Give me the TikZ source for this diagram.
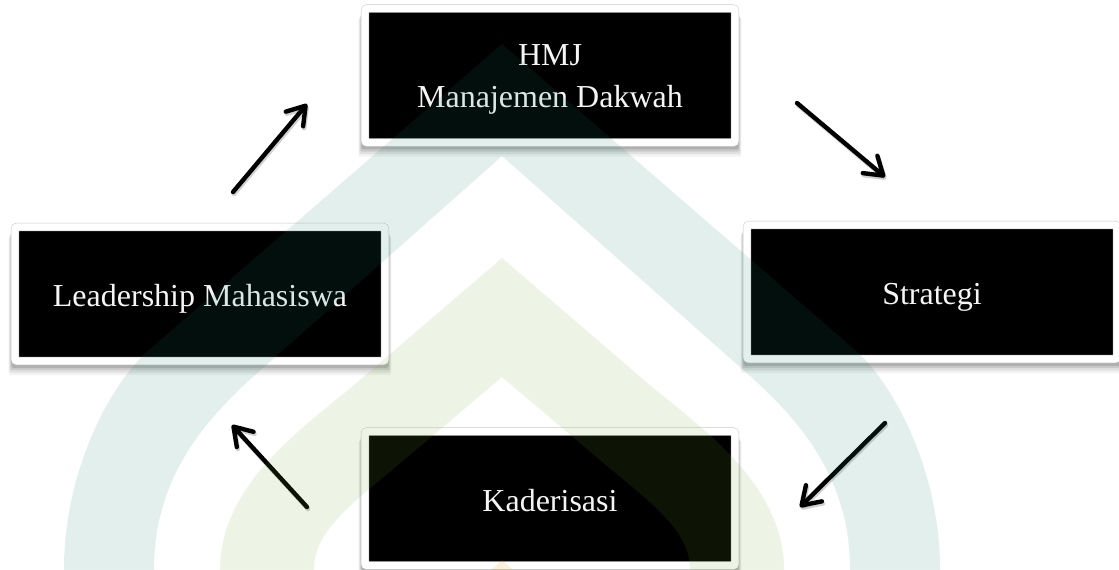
\documentclass[tikz,border=0pt]{standalone}
\usepackage{fontspec}
\setmainfont{Liberation Serif}
\usetikzlibrary{arrows.meta,shadows}
\definecolor{wmteal}{RGB}{30,130,113}
\definecolor{wmgreen}{RGB}{113,172,47}
\definecolor{wmgold}{RGB}{230,160,0}
\tikzset{
  framebox/.style={rectangle, fill=black, draw=black!22, double=white,
    double distance=5.4pt, line width=0.35pt,
    rounded corners=1.5pt, minimum width=277.5pt, minimum height=100.5pt,
    inner sep=0pt, text=white!96!black, font=\fontsize{24}{31.5}\selectfont, align=center,
    text height=24pt, text depth=4.6pt,
    general shadow={fill=black, opacity=0.05, shadow yshift=-8.5pt, shadow scale=1.035},
    general shadow={fill=black, opacity=0.07, shadow yshift=-7pt, shadow scale=1.03},
    general shadow={fill=black, opacity=0.10, shadow yshift=-5.5pt, shadow scale=1.025},
    general shadow={fill=black, opacity=0.12, shadow yshift=-4pt, shadow scale=1.02}},
  flowarrow/.style={line width=3.3pt, line cap=round,
    -{Straight Barb[length=13pt,width=17pt,line cap=round,line join=round]}},
  arrowshade/.style={flowarrow, draw=black, opacity=0.18,
    transform canvas={shift={(0.8pt,-1.6pt)}}},
  wmfill/.style={fill opacity=0.12, even odd rule}
}
\begin{document}
\begin{tikzpicture}[x=0.75pt,y=-0.75pt]
\fill[white] (0,0) rectangle (1119,569);
\useasboundingbox (0,0) rectangle (1119,569);

% boxes
\node[framebox, text height=52pt] (hmj) at (550,75.5) {HMJ\\Manajemen Dakwah};
\node[framebox] (lead) at (200,294) {Leadership Mahasiswa};
\node[framebox] (strat) at (932,292) {Strategi};
\node[framebox] (kader) at (550,498.5) {Kaderisasi};

% arrow end points
\coordinate (a1s) at (233,192);
\coordinate (a1e) at (307,104);
\coordinate (a2s) at (797,103);
\coordinate (a2e) at (885,177);
\coordinate (a3s) at (885,423);
\coordinate (a3e) at (800,507);
\coordinate (a4s) at (307,507);
\coordinate (a4e) at (232,425);

\draw[arrowshade] (a1s) -- (a1e);
\draw[arrowshade] (a2s) -- (a2e);
\draw[arrowshade] (a3s) -- (a3e);
\draw[arrowshade] (a4s) -- (a4e);
\draw[flowarrow] (a1s) -- (a1e);
\draw[flowarrow] (a2s) -- (a2e);
\draw[flowarrow] (a3s) -- (a3e);
\draw[flowarrow] (a4s) -- (a4e);

% watermark overlay
\begin{scope}
\clip (0,0) rectangle (1119,569);
\fill[wmteal, wmfill]
  (502,44) -- (855,350) .. controls (893,383) and (940,470) .. (940,569)
  -- (940,600) -- (64,600) -- (64,569)
  .. controls (64,470) and (111,383) .. (149,350) -- cycle
  (502,156) -- (740,367) .. controls (790,411) and (850,470) .. (850,569)
  -- (850,600) -- (154,600) -- (154,569)
  .. controls (154,470) and (214,411) .. (264,367) -- cycle;
\fill[wmgreen, wmfill]
  (502,258) -- (644,380) .. controls (690,420) and (784,480) .. (784,569)
  -- (784,600) -- (220,600) -- (220,569)
  .. controls (220,480) and (314,420) .. (360,380) -- cycle
  (502,377) -- (600,460) .. controls (650,502) and (690,530) .. (690,569)
  -- (690,600) -- (314,600) -- (314,569)
  .. controls (314,530) and (354,502) .. (404,460) -- cycle;
\fill[wmgold, fill opacity=0.15]
  (502,560) -- (545,600) -- (459,600) -- cycle;
\end{scope}
\end{tikzpicture}
\end{document}
